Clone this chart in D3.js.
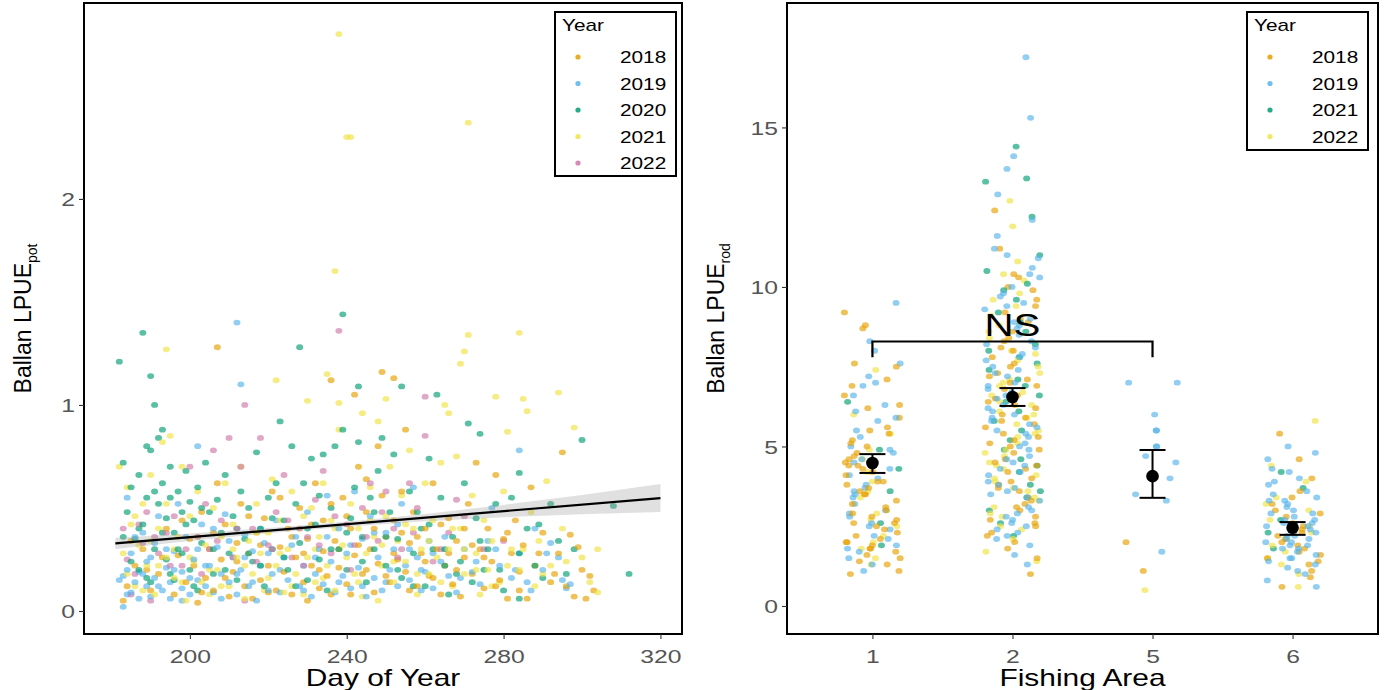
<!DOCTYPE html>
<html>
<head>
<meta charset="utf-8">
<title>Ballan LPUE</title>
<script src="https://d3js.org/d3.v7.min.js"></script>
<style>
  body { margin: 0; background: #fff; }
  text { font-family: "Liberation Sans", Arial, sans-serif; }
</style>
</head>
<body>
<div id="chart"></div>
<script>
// ---- data: left panel, pot LPUE by day of year (flat day,value pairs) ----
var potYears = [2018, 2019, 2020, 2021, 2022];
var pot2018 = [183,.05, 184,.12, 186,.22, 188,.30, 190,.10, 192,.18, 194,.40, 196,.08, 197,.27, 199,.14, 200,.35, 201,.22, 202,.04, 203,.48, 204,.16, 205,.30, 206,.10, 207,.62, 207,1.28, 208,.25, 209,.42, 210,.07, 211,.19, 212,.33, 213,.52, 214,.12, 215,.28, 216,.06, 217,.38, 218,.15, 219,.45, 220,.22, 221,.58, 222,.10, 223,.31, 224,.19, 225,.40, 226,.08, 227,.26, 228,.50, 229,.14, 230,.05, 230,.35, 231,.22, 232,.62, 233,.11, 234,.29, 234,.44, 235,.17, 236,1.12, 236,.08, 237,.34, 238,.21, 239,.55, 240,.13, 241,.40, 242,1.05, 242,.27, 243,.70, 244,.18, 245,.48, 245,.64, 246,.30, 247,.09, 248,.23, 248,.80, 249,1.16, 250,.36, 251,.14, 252,1.13, 252,.44, 253,.25, 254,.58, 255,.88, 255,.19, 256,.33, 257,.48, 258,.12, 259,.28, 260,.40, 261,.17, 262,.62, 263,.30, 264,.08, 265,.22, 266,.45, 267,.13, 268,.34, 269,.07, 270,.26, 271,.52, 272,.18, 273,.72, 274,.30, 275,.11, 276,.40, 277,.24, 278,.66, 279,.15, 280,.35, 281,.06, 282,.28, 283,.44, 284,.19, 285,.32, 286,.06, 287,.60, 288,.22, 290,.38, 292,.14, 294,.28, 295,.77, 296,.12, 297,.37, 298,.07, 300,.20, 302,.17, 303,.10,
  185,.34, 189,.20, 193,.26, 198,.44, 203,.09, 206,.38, 209,.16, 212,.24, 215,.46, 218,.32, 220,.09, 223,.55, 226,.36, 229,.28, 231,.42, 233,.20, 236,.52, 238,.30, 240,.46, 241,.08, 243,.32, 245,.20, 247,.40, 249,.56, 250,.17, 252,.28, 254,.38, 256,.10, 258,.36, 260,.24, 262,.16, 264,.42, 266,.28, 268,.20, 270,.40, 272,.32, 275,.26, 278,.12, 281,.38, 284,.10, 289,.28, 293,.18, 299,.31, 301,.06];
var pot2019 = [183,.02, 183,.17, 184,.55, 184,.20, 185,.09, 185,.28, 186,.14, 187,.06, 187,.19, 188,.38, 189,.12, 189,.24, 190,.07, 191,.16, 191,.33, 192,.46, 193,.10, 194,.21, 195,.06, 195,.14, 196,.29, 197,.52, 198,.11, 198,.19, 199,.36, 200,.08, 201,.25, 202,.80, 202,.15, 203,.42, 204,.12, 205,.22, 206,.09, 207,.31, 208,.18, 209,.47, 210,.14, 211,.26, 212,1.40, 212,.08, 213,1.10, 213,.20, 214,.37, 215,.12, 216,.29, 217,.05, 218,.22, 219,.33, 220,.10, 221,.18, 222,.44, 223,.09, 224,.26, 225,.15, 227,.36, 228,.12, 229,.22, 230,.48, 231,.07, 232,.18, 233,.30, 234,.13, 235,.56, 236,.24, 237,.09, 238,.40, 239,.17, 240,.28, 241,.11, 242,.58, 243,.21, 244,.35, 245,.07, 246,.46, 247,.16, 248,.26, 249,.10, 250,.38, 251,.20, 252,.30, 253,.12, 254,.52, 255,.22, 256,.15, 257,.60, 258,.26, 259,.10, 260,.19, 261,.34, 262,.11, 264,.24, 266,.17, 268,.09, 270,.30, 272,.19, 274,.13, 276,.34, 277,.50, 279,.22, 282,.16, 284,.78, 284,.28, 286,.14, 288,.40, 290,.20, 292,.33, 294,.26, 296,.11, 297,.13,
  182,.15, 184,.08, 186,.36, 188,.18, 190,.26, 192,.12, 194,.30, 196,.20, 198,.05, 200,.16, 202,.30, 204,.22, 206,.40, 208,.06, 210,.34, 212,.18, 214,.26, 216,.14, 218,.40, 220,.28, 223,.20, 226,.32, 229,.10, 232,.26, 235,.36, 238,.14, 241,.32, 244,.12, 247,.38, 250,.14, 253,.42, 256,.30, 259,.20, 262,.28, 265,.36, 269,.16, 273,.24, 278,.30, 283,.20, 287,.10, 291,.28, 295,.15];
var pot2020 = [182,1.21, 183,.72, 184,.48, 185,.60, 186,.35, 187,.66, 187,.20, 188,1.35, 188,.42, 189,.55, 189,.80, 190,.78, 190,1.14, 190,.14, 191,1.00, 191,.30, 192,.84, 192,.52, 193,.88, 193,.62, 194,.45, 194,.25, 195,.70, 195,.55, 196,.38, 196,.15, 197,.58, 198,.48, 198,.28, 199,.68, 200,.53, 200,.20, 201,.44, 202,.60, 202,.10, 203,.33, 204,.72, 205,.48, 206,.18, 207,.54, 208,.38, 209,.66, 210,.28, 211,.46, 212,.15, 213,.58, 214,.35, 215,.50, 216,.24, 217,.77, 218,.40, 219,.12, 220,.55, 221,.30, 222,.62, 223,.92, 224,.44, 225,.20, 226,.80, 227,.52, 228,1.28, 228,.33, 229,.62, 230,.15, 231,.74, 232,.42, 233,.25, 234,.76, 235,.10, 236,.50, 237,.80, 238,.30, 239,1.44, 239,.88, 240,.20, 241,.45, 242,.60, 243,1.09, 243,.82, 244,.36, 245,.14, 246,.55, 247,.30, 248,.68, 249,.84, 250,.22, 251,.48, 252,.76, 253,.35, 254,1.09, 254,.16, 256,.58, 257,.28, 258,.48, 259,.40, 260,.12, 261,.74, 262,.30, 263,1.05, 264,.55, 265,.22, 266,.08, 267,.36, 268,.18, 270,.62, 271,.91, 272,.14, 273,.45, 274,.86, 275,.20, 276,.30, 278,.52, 280,.10, 282,.55, 284,.67, 284,.06, 286,.40, 288,.22, 290,.16, 292,.52, 296,.18, 298,.30, 300,.83, 308,.51, 312,.18,
  183,.36, 185,.24, 187,.40, 189,.16, 191,.58, 193,.38, 195,.18, 197,.30, 199,.42, 201,.12, 203,.50, 206,.30, 209,.20, 212,.40, 215,.28, 218,.22, 221,.45, 224,.26, 227,.12, 230,.40, 233,.56, 236,.30, 240,.38, 244,.24, 247,.48, 250,.36, 253,.20, 257,.12, 261,.42, 265,.30, 269,.24, 274,.34, 279,.20, 284,.28, 289,.42, 294,.34];
var pot2021 = [182,.70, 183,.28, 184,.60, 185,.42, 186,.12, 187,.32, 188,.52, 189,.22, 190,.66, 191,.08, 192,.40, 193,.82, 194,1.27, 194,.26, 195,.85, 196,.16, 197,.36, 198,.70, 199,.05, 200,.46, 201,.24, 202,.58, 203,.14, 204,.32, 205,.08, 206,.50, 207,.20, 208,.36, 209,.62, 210,.12, 211,.42, 212,.26, 213,.70, 214,.06, 215,.34, 216,.18, 217,.52, 218,.28, 219,.10, 220,.38, 221,.64, 222,1.12, 222,.22, 223,.44, 224,.09, 225,.30, 226,.58, 227,.18, 228,.40, 229,.08, 230,1.02, 230,.26, 231,.50, 232,.14, 233,.36, 234,.62, 235,1.15, 235,.22, 236,.44, 237,1.65, 237,.10, 238,2.80, 238,1.01, 238,.88, 239,.32, 240,2.30, 241,2.30, 241,.52, 242,.18, 243,.40, 244,.96, 244,.07, 245,.28, 246,.60, 247,.36, 248,.92, 248,.05, 249,.22, 250,.46, 250,1.03, 251,.70, 252,.14, 253,.34, 254,.56, 255,.24, 256,.78, 257,.40, 258,.08, 259,.30, 260,.62, 261,.18, 262,.44, 263,.26, 264,.72, 265,1.00, 266,.96, 266,.30, 267,.12, 268,.75, 269,1.20, 269,.40, 270,1.26, 270,.18, 271,1.34, 271,2.37, 272,.56, 273,.28, 274,.08, 275,.44, 276,.20, 277,.34, 278,1.04, 279,.14, 280,.58, 281,.87, 282,.30, 284,1.35, 284,.20, 285,1.03, 286,.97, 287,.48, 288,.12, 289,.34, 291,.63, 292,.22, 294,1.06, 295,.40, 298,.89, 300,.26, 304,.30, 304,.09,
  184,.18, 186,.46, 188,.10, 190,.34, 192,.22, 194,.52, 196,.30, 198,.14, 200,.26, 202,.36, 205,.20, 208,.12, 211,.30, 214,.22, 217,.38, 220,.16, 223,.28, 226,.12, 229,.46, 232,.30, 234,.16, 237,.40, 240,.26, 243,.14, 246,.44, 249,.32, 252,.24, 255,.42, 258,.18, 261,.34, 264,.14, 267,.40, 270,.30, 273,.20, 277,.12, 281,.22, 285,.30, 290,.18, 296,.24, 302,.14];
var pot2022 = [183,.40, 184,.25, 185,.08, 187,.42, 188,.33, 189,.48, 190,.05, 192,.28, 194,.38, 196,.46, 198,.22, 200,.70, 202,.36, 204,.52, 205,.30, 206,.78, 208,.44, 210,.84, 211,.26, 213,.70, 214,1.00, 214,.05, 216,.40, 218,.84, 220,.32, 222,.48, 224,.66, 226,.26, 228,.40, 230,.36, 232,.54, 234,.68, 236,.28, 238,1.36, 240,.42, 242,.32, 244,.50, 246,.62, 248,.34, 250,.58, 252,.40, 254,.30, 256,.62, 258,.50, 260,.85, 260,1.04, 262,.24, 266,.38, 270,.46, 275,.30, 280,.34,
  186,.18, 191,.36, 195,.22, 199,.30, 203,.18, 207,.34, 212,.40, 217,.24, 221,.30, 225,.44, 229,.22, 233,.32, 237,.46, 241,.20, 245,.36, 249,.48, 253,.26, 257,.38, 264,.30, 268,.54];

// linear fit and its confidence band
var fitDays = [181, 320];
var fitValues = [0.328, 0.548];
var ciDays = [181, 200, 220, 240, 260, 280, 300, 320];
var ciLow = [0.301, 0.340, 0.377, 0.409, 0.435, 0.455, 0.469, 0.480];
var ciHigh = [0.355, 0.376, 0.403, 0.433, 0.471, 0.515, 0.563, 0.616];

// ---- data: right panel, rod LPUE by fishing area ----
var areas = ["1", "2", "5", "6"];
var rodYears = [2018, 2019, 2021, 2022];
// each: values for areas 1, 2, 5, 6
var rod2018 = [
  [9.2, 8.8, 8.7, 7.6, 7.5, 7.1, 6.9, 6.6, 6.3, 6.2, 5.9, 5.6, 5.5, 5.4, 5.2, 5.1, 5.0, 4.8, 4.7, 4.6, 4.5, 4.4, 4.4, 4.3, 4.2, 4.1, 3.9, 3.9, 3.8, 3.7, 3.6, 3.5, 3.5, 3.3, 3.2, 3.1, 3.0, 2.9, 2.8, 2.7, 2.6, 2.6, 2.5, 2.4, 2.3, 2.2, 2.1, 2.0, 2.0, 1.9, 1.8, 1.8, 1.7, 1.6, 1.5, 1.4, 1.3, 1.1, 1.0],
  [12.4, 11.2, 10.4, 10.3, 10.0, 9.9, 9.6, 9.4, 9.2, 9.0, 8.9, 8.6, 8.4, 8.3, 8.1, 8.0, 7.8, 7.6, 7.5, 7.3, 7.2, 7.1, 7.0, 6.9, 6.8, 6.6, 6.5, 6.4, 6.3, 6.2, 6.0, 5.9, 5.8, 5.7, 5.6, 5.4, 5.3, 5.2, 5.1, 5.0, 4.9, 4.8, 4.6, 4.5, 4.4, 4.3, 4.2, 4.0, 3.9, 3.8, 3.7, 3.6, 3.4, 3.3, 3.2, 3.1, 3.0, 2.8, 2.7, 2.6, 2.5, 2.3, 2.2, 2.0, 1.8, 1.5, 1.0],
  [2.0, 1.1],
  [5.4, 4.6, 4.0, 3.6, 3.4, 3.2, 3.0, 2.9, 2.8, 2.6, 2.5, 2.4, 2.3, 2.2, 2.1, 2.0, 1.9, 1.8, 1.7, 1.6, 1.5, 1.4, 1.3, 1.1, 0.9, 0.6]
];
var rod2019 = [
  [9.5, 8.3, 8.0, 7.6, 7.2, 7.0, 6.9, 6.6, 6.3, 6.1, 5.9, 5.8, 5.5, 5.3, 5.0, 4.9, 4.8, 4.6, 4.5, 4.3, 4.1, 4.0, 3.8, 3.7, 3.6, 3.5, 3.4, 3.2, 3.0, 2.9, 2.8, 2.6, 2.5, 2.4, 2.2, 2.1, 1.9, 1.8, 1.7, 1.5, 1.3, 1.1],
  [17.2, 15.3, 14.1, 13.7, 12.9, 12.1, 11.6, 11.2, 11.0, 10.9, 10.6, 10.4, 10.3, 10.0, 9.8, 9.7, 9.5, 9.4, 9.3, 9.0, 8.9, 8.8, 8.7, 8.5, 8.3, 8.2, 8.1, 7.9, 7.8, 7.7, 7.5, 7.4, 7.3, 7.2, 7.0, 6.9, 6.8, 6.7, 6.6, 6.5, 6.3, 6.2, 6.1, 6.0, 5.9, 5.8, 5.7, 5.6, 5.5, 5.4, 5.3, 5.1, 5.0, 4.9, 4.7, 4.6, 4.5, 4.4, 4.3, 4.2, 4.1, 3.9, 3.8, 3.7, 3.6, 3.5, 3.4, 3.3, 3.1, 3.0, 2.9, 2.8, 2.7, 2.6, 2.5, 2.4, 2.3, 2.2, 2.1, 1.9, 1.6, 1.3],
  [7.0, 7.0, 6.0, 5.5, 5.5, 5.0, 5.0, 4.7, 4.5, 4.0, 3.5, 3.3, 1.7],
  [5.0, 4.8, 4.6, 4.3, 4.2, 4.0, 3.9, 3.8, 3.6, 3.5, 3.4, 3.3, 3.3, 3.2, 3.1, 3.0, 2.9, 2.9, 2.8, 2.7, 2.7, 2.6, 2.6, 2.5, 2.5, 2.4, 2.4, 2.3, 2.2, 2.2, 2.1, 2.1, 2.0, 2.0, 1.9, 1.9, 1.8, 1.8, 1.7, 1.6, 1.5, 1.5, 1.4, 1.3, 1.2, 1.1, 1.0, 0.8, 0.6]
];
var rod2021 = [
  [6.4, 4.9, 4.3, 3.6, 2.6, 1.9],
  [14.4, 13.4, 13.3, 12.2, 11.0, 10.5, 10.1, 9.9, 9.6, 9.2, 8.9, 8.6, 8.2, 8.0, 7.8, 7.6, 7.4, 7.1, 6.9, 6.6, 6.4, 6.1, 5.8, 5.5, 5.2, 4.9, 4.6, 4.4, 4.2, 3.8, 3.6, 3.4, 3.0, 2.6, 2.2],
  [],
  [4.2, 3.7, 2.7, 2.3, 1.8]
];
var rod2022 = [
  [7.4, 6.0, 5.4, 4.9, 4.6, 4.2, 3.9, 3.6, 3.4, 2.9, 2.7, 2.5, 2.2, 2.0, 1.8, 1.5, 1.3],
  [12.7, 11.9, 10.8, 10.4, 10.2, 9.8, 9.6, 9.4, 9.1, 8.8, 8.6, 8.4, 8.0, 7.9, 7.7, 7.5, 7.3, 7.1, 7.0, 6.9, 6.7, 6.6, 6.4, 6.3, 6.1, 6.0, 5.9, 5.7, 5.5, 5.4, 5.3, 5.1, 4.9, 4.8, 4.7, 4.5, 4.4, 4.3, 4.1, 4.0, 3.9, 3.7, 3.6, 3.4, 3.3, 3.1, 2.9, 2.8, 2.5, 2.4, 2.1, 1.7, 1.4],
  [0.5],
  [5.8, 4.4, 3.9, 3.4, 3.2, 3.0, 2.7, 2.5, 2.3, 2.1, 1.9, 1.7, 1.5, 1.3, 1.0, 0.6]
];
var areaMean = [4.48, 6.55, 4.07, 2.45];
var areaLow = [4.17, 6.27, 3.39, 2.23];
var areaHigh = [4.76, 6.83, 4.89, 2.63];
var nsLabel = "NS";
var nsFrom = "1", nsTo = "5", nsTop = 8.29, nsLeg = 7.8;

var palette = ["#E69F00", "#56B4E9", "#009E73", "#F0E442", "#CC79A7"];

// ---- layout ----
var W = 1384, H = 690;
var SX = 1.3; // the figure's text is stretched horizontally
var svg = d3.select("#chart").append("svg").attr("width", W).attr("height", H);

function hText(g, x, y, s, size, anchor, fill) {
  return g.append("text")
    .attr("transform", "translate(" + x + "," + y + ") scale(" + SX + ",1)")
    .attr("text-anchor", anchor || "start")
    .attr("font-size", size)
    .attr("fill", fill || "#000")
    .text(s);
}

function styleAxis(g, side) {
  g.select(".domain").remove();
  g.selectAll(".tick line").attr("stroke", "#333").attr("stroke-width", 1.1);
  g.selectAll(".tick text").attr("fill", "#555").attr("font-size", 19)
    .attr("font-family", "Liberation Sans, Arial, sans-serif");
  if (side === "left") {
    g.selectAll(".tick text").each(function () {
      d3.select(this).attr("x", null).attr("dy", "0.36em")
        .attr("transform", "translate(-9,0) scale(" + SX + ",1)");
    });
  } else {
    g.selectAll(".tick text").each(function () {
      d3.select(this).attr("y", null).attr("dy", null)
        .attr("transform", "translate(0,29) scale(" + SX + ",1)");
    });
  }
}

function legend(g, x0, y0, w, h, years, pal) {
  g.append("rect").attr("x", x0).attr("y", y0).attr("width", w).attr("height", h)
    .attr("fill", "#fff").attr("stroke", "#000").attr("stroke-width", 2);
  hText(g, x0 + 7, y0 + 19, "Year", 16);
  years.forEach(function (yr, i) {
    var cy = y0 + 45 + i * 26.5;
    g.append("circle").attr("cx", x0 + 23).attr("cy", cy).attr("r", 2.6)
      .attr("fill", pal(yr)).attr("opacity", 0.85);
    hText(g, x0 + 65, cy + 6, yr, 16);
  });
}

// ================= left panel =================
var L = { x0: 84, x1: 682, y0: 3, y1: 634 };
var xL = d3.scaleLinear().domain([173, 325.5]).range([L.x0, L.x1]);
var yL = d3.scaleLinear().domain([-0.1117, 2.951]).range([L.y1, L.y0]);
var colL = d3.scaleOrdinal().domain(potYears).range(palette);

var potRows = [];
[pot2018, pot2019, pot2020, pot2021, pot2022].forEach(function (arr, k) {
  for (var i = 0; i < arr.length; i += 2) potRows.push({ day: arr[i], v: arr[i + 1], year: potYears[k] });
});
potRows.sort(function (a, b) { return a.day - b.day || a.v - b.v; });

var gL = svg.append("g");
gL.selectAll("ellipse.pt").data(potRows).enter().append("ellipse")
  .attr("cx", function (d) { return xL(d.day); })
  .attr("cy", function (d) { return yL(d.v); })
  .attr("rx", 3.5).attr("ry", 2.9)
  .attr("fill", function (d) { return colL(d.year); })
  .attr("opacity", 0.65);

var band = ciDays.map(function (d, i) { return { d: d, lo: ciLow[i], hi: ciHigh[i] }; });
gL.append("path").datum(band)
  .attr("fill", "#999").attr("opacity", 0.3)
  .attr("d", d3.area().x(function (d) { return xL(d.d); })
    .y0(function (d) { return yL(d.lo); }).y1(function (d) { return yL(d.hi); }));
gL.append("path").datum(fitDays.map(function (d, i) { return [d, fitValues[i]]; }))
  .attr("fill", "none").attr("stroke", "#000").attr("stroke-width", 2.2)
  .attr("d", d3.line().x(function (d) { return xL(d[0]); }).y(function (d) { return yL(d[1]); }));

gL.append("rect").attr("x", L.x0).attr("y", L.y0).attr("width", L.x1 - L.x0).attr("height", L.y1 - L.y0)
  .attr("fill", "none").attr("stroke", "#000").attr("stroke-width", 2);

var axLx = gL.append("g").attr("transform", "translate(0," + L.y1 + ")")
  .call(d3.axisBottom(xL).tickValues([200, 240, 280, 320]).tickSize(5).tickPadding(5));
styleAxis(axLx, "bottom");
var axLy = gL.append("g").attr("transform", "translate(" + L.x0 + ",0)")
  .call(d3.axisLeft(yL).tickValues([0, 1, 2]).tickFormat(d3.format("d")).tickSize(5).tickPadding(5));
styleAxis(axLy, "left");

hText(gL, (L.x0 + L.x1) / 2, 686, "Day of Year", 23, "middle");
var ylabL = gL.append("text").attr("transform", "translate(31," + ((L.y0 + L.y1) / 2) + ") rotate(-90)")
  .attr("text-anchor", "middle").attr("font-size", 23).attr("fill", "#000");
ylabL.append("tspan").text("Ballan LPUE");
ylabL.append("tspan").attr("font-size", 14).attr("dy", 6).text("pot");

legend(gL, 555, 12, 121, 164, potYears, colL);

// ================= right panel =================
var R = { x0: 787, x1: 1378, y0: 3, y1: 634 };
var xR = d3.scalePoint().domain(areas).range([R.x0, R.x1]).padding(0.61);
var yR = d3.scaleLinear().domain([-0.878, 18.9]).range([R.y1, R.y0]);
var colR = d3.scaleOrdinal().domain(rodYears).range(palette);
var jitterW = 0.2 * xR.step();

// deterministic horizontal spread for the strip layout (position only)
function spread(n, a) {
  var s = Math.sin(n * 12.9898 + a * 78.233) * 43758.5453;
  return (s - Math.floor(s)) * 2 - 1;
}

var rodRows = [];
var counts = [0, 0, 0, 0];
var rodSets = [rod2018, rod2019, rod2021, rod2022];
// interleave years so colours mix like the original
for (var i = 0; i < 90; i++) {
  rodSets.forEach(function (set, k) {
    set.forEach(function (vals, a) {
      if (i < vals.length) {
        var n = counts[a]++;
        rodRows.push({ area: areas[a], v: vals[i], year: rodYears[k], off: spread(n, a) * jitterW });
      }
    });
  });
}

var gR = svg.append("g");
gR.selectAll("ellipse.pt").data(rodRows).enter().append("ellipse")
  .attr("cx", function (d) { return xR(d.area) + d.off; })
  .attr("cy", function (d) { return yR(d.v); })
  .attr("rx", 3.5).attr("ry", 2.9)
  .attr("fill", function (d) { return colR(d.year); })
  .attr("opacity", 0.65);

// significance bracket
var bx0 = xR(nsFrom), bx1 = xR(nsTo);
gR.append("path")
  .attr("d", "M" + bx0 + "," + yR(nsLeg) + "V" + yR(nsTop) + "H" + bx1 + "V" + yR(nsLeg))
  .attr("fill", "none").attr("stroke", "#000").attr("stroke-width", 2.2);
hText(gR, (bx0 + bx1) / 2, yR(nsTop) - 6, nsLabel, 31, "middle");

// means with error bars
var stats = areas.map(function (a, i) { return { area: a, m: areaMean[i], lo: areaLow[i], hi: areaHigh[i] }; });
var eb = gR.selectAll("g.eb").data(stats).enter().append("g");
eb.append("line").attr("x1", function (d) { return xR(d.area); }).attr("x2", function (d) { return xR(d.area); })
  .attr("y1", function (d) { return yR(d.lo); }).attr("y2", function (d) { return yR(d.hi); })
  .attr("stroke", "#000").attr("stroke-width", 2);
["lo", "hi"].forEach(function (key) {
  eb.append("line").attr("x1", function (d) { return xR(d.area) - 13; }).attr("x2", function (d) { return xR(d.area) + 13; })
    .attr("y1", function (d) { return yR(d[key]); }).attr("y2", function (d) { return yR(d[key]); })
    .attr("stroke", "#000").attr("stroke-width", 2);
});
eb.append("circle").attr("cx", function (d) { return xR(d.area); }).attr("cy", function (d) { return yR(d.m); })
  .attr("r", 6.3).attr("fill", "#000");

gR.append("rect").attr("x", R.x0).attr("y", R.y0).attr("width", R.x1 - R.x0).attr("height", R.y1 - R.y0)
  .attr("fill", "none").attr("stroke", "#000").attr("stroke-width", 2);

var axRx = gR.append("g").attr("transform", "translate(0," + R.y1 + ")")
  .call(d3.axisBottom(xR).tickSize(5).tickPadding(5));
styleAxis(axRx, "bottom");
var axRy = gR.append("g").attr("transform", "translate(" + R.x0 + ",0)")
  .call(d3.axisLeft(yR).tickValues([0, 5, 10, 15]).tickSize(5).tickPadding(5));
styleAxis(axRy, "left");

hText(gR, (R.x0 + R.x1) / 2, 686, "Fishing Area", 23, "middle");
var ylabR = gR.append("text").attr("transform", "translate(724," + ((R.y0 + R.y1) / 2) + ") rotate(-90)")
  .attr("text-anchor", "middle").attr("font-size", 23).attr("fill", "#000");
ylabR.append("tspan").text("Ballan LPUE");
ylabR.append("tspan").attr("font-size", 14).attr("dy", 6).text("rod");

legend(gR, 1247, 12, 121, 138, rodYears, colR);
</script>
</body>
</html>
